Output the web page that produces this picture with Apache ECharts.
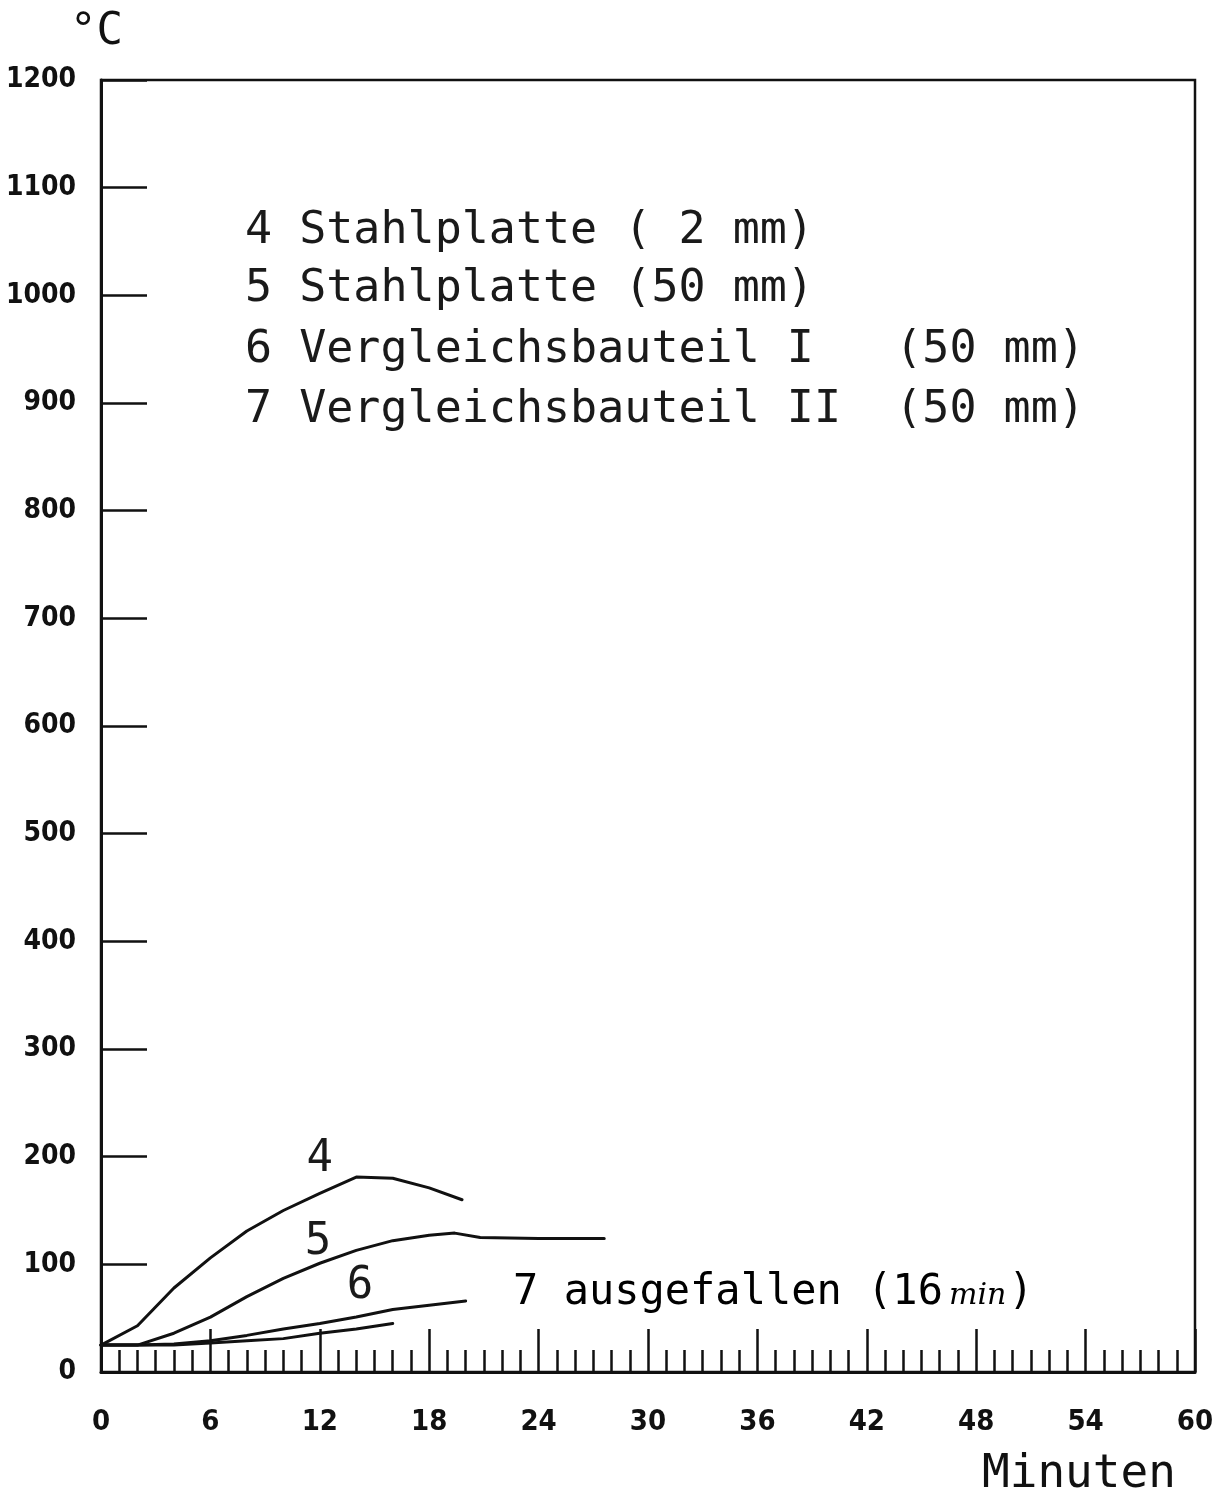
<!DOCTYPE html>
<html>
<head>
<meta charset="utf-8">
<script src="https://cdn.jsdelivr.net/npm/echarts@6/dist/echarts.min.js"></script>
<style>html,body{margin:0;padding:0;background:#fff;}</style>
</head>
<body>
<div id="main" style="width:1223px;height:1497px;"></div>
<script>
// Temperaturverlauf, Werte (Minuten, °C)
var kurve4 = [[0,25],[2,43],[4,78],[6,106],[8,131],[10,150],[12,166],[14,181],[16,180],[18,171],[19.8,160]];
var kurve5 = [[0,25],[2,25],[4,36],[6,51],[8,70],[10,87],[12,101],[14,113],[16,122],[18,127],[19.4,129],[20.8,125],[24,124],[27.6,124]];
var kurve6 = [[0,25],[2,25],[4,26],[6,29],[8,34],[10,40],[12,45],[14,51],[16,58],[18,62],[20,66]];
var kurve7 = [[0,25],[2,25],[4,25],[6,27],[8,29],[10,31],[12,36],[14,40],[16,45]];

var legendeZeilen = [
    '4 Stahlplatte ( 2 mm)',
    '5 Stahlplatte (50 mm)',
    '6 Vergleichsbauteil I   (50 mm)',
    '7 Vergleichsbauteil II  (50 mm)'
];

// Kurvenbeschriftungen in Datenkoordinaten
var beschriftung = [
    {text: '4', x: 12.0, y: 197},
    {text: '5', x: 11.9, y: 120},
    {text: '6', x: 14.2, y: 79}
];

var monoFont = 'DejaVu Sans Mono';
var zahlFont = 'DejaVu Sans Condensed';

var myChart = echarts.init(document.getElementById('main'));

function linie(name, daten) {
    return {
        name: name,
        type: 'line',
        data: daten,
        symbol: 'none',
        smooth: false,
        lineStyle: {color: '#111', width: 3, cap: 'round', join: 'round'},
        silent: true,
        z: 3
    };
}

var option = {
    backgroundColor: '#fff',
    animation: false,
    grid: {
        left: 101, right: 28, top: 80, bottom: 125,
        show: true, borderColor: '#111', borderWidth: 2.5
    },
    xAxis: {
        type: 'value',
        min: 0, max: 60, interval: 6,
        axisLine: {lineStyle: {color: '#111', width: 3}},
        axisTick: {inside: true, length: 43, lineStyle: {color: '#111', width: 2.5}},
        minorTick: {show: true, splitNumber: 6, length: 22, lineStyle: {color: '#111', width: 2.5}},
        splitLine: {show: false},
        axisLabel: {
            margin: 36, color: '#111',
            fontFamily: zahlFont, fontWeight: 'bold', fontSize: 29,
            formatter: function (v) { return String(v); }
        }
    },
    yAxis: {
        type: 'value',
        min: 0, max: 1200, interval: 100,
        axisLine: {lineStyle: {color: '#111', width: 3}},
        axisTick: {inside: true, length: 46, lineStyle: {color: '#111', width: 2.5}},
        splitLine: {show: false},
        axisLabel: {
            margin: 25, color: '#111',
            fontFamily: zahlFont, fontWeight: 'bold', fontSize: 28,
            formatter: function (v) { return String(v); }
        }
    },
    series: [
        linie('4', kurve4),
        linie('5', kurve5),
        linie('6', kurve6),
        linie('7', kurve7)
    ],
    graphic: []
};

myChart.setOption(option);

var grafik = [];

// Achsentitel
grafik.push({
    type: 'text', left: 70, top: 11,
    style: {text: '°C', font: '44px "' + monoFont + '"', fill: '#111'}
});
grafik.push({
    type: 'text', left: 982, top: 1452,
    style: {text: 'Minuten', font: '46px "' + monoFont + '"', fill: '#111'}
});

// Legende oben
var legendeY = [231, 289, 350, 410];
legendeZeilen.forEach(function (t, i) {
    grafik.push({
        type: 'text', x: 245, y: legendeY[i],
        style: {text: t, font: '45px "' + monoFont + '"', fill: '#1a1a1a', verticalAlign: 'middle'}
    });
});

// Kurvennummern
beschriftung.forEach(function (b) {
    var p = myChart.convertToPixel({gridIndex: 0}, [b.x, b.y]);
    grafik.push({
        type: 'text', x: p[0], y: p[1],
        style: {text: b.text, font: '44px "' + monoFont + '"', fill: '#1a1a1a', align: 'center', verticalAlign: 'middle'}
    });
});

// Hinweis zu Kurve 7
var p7 = myChart.convertToPixel({gridIndex: 0}, [22.6, 73]);
grafik.push({
    type: 'text', x: p7[0], y: p7[1],
    style: {
        text: '{a|7 ausgefallen (16}{b|min}{a|)}',
        verticalAlign: 'middle',
        rich: {
            a: {fontFamily: monoFont, fontSize: 42, color: '#1a1a1a'},
            b: {fontFamily: 'DejaVu Serif', fontStyle: 'italic', fontSize: 30, color: '#1a1a1a', padding: [6, 2, 0, 6]}
        }
    }
});

myChart.setOption({graphic: grafik});
</script>
</body>
</html>
